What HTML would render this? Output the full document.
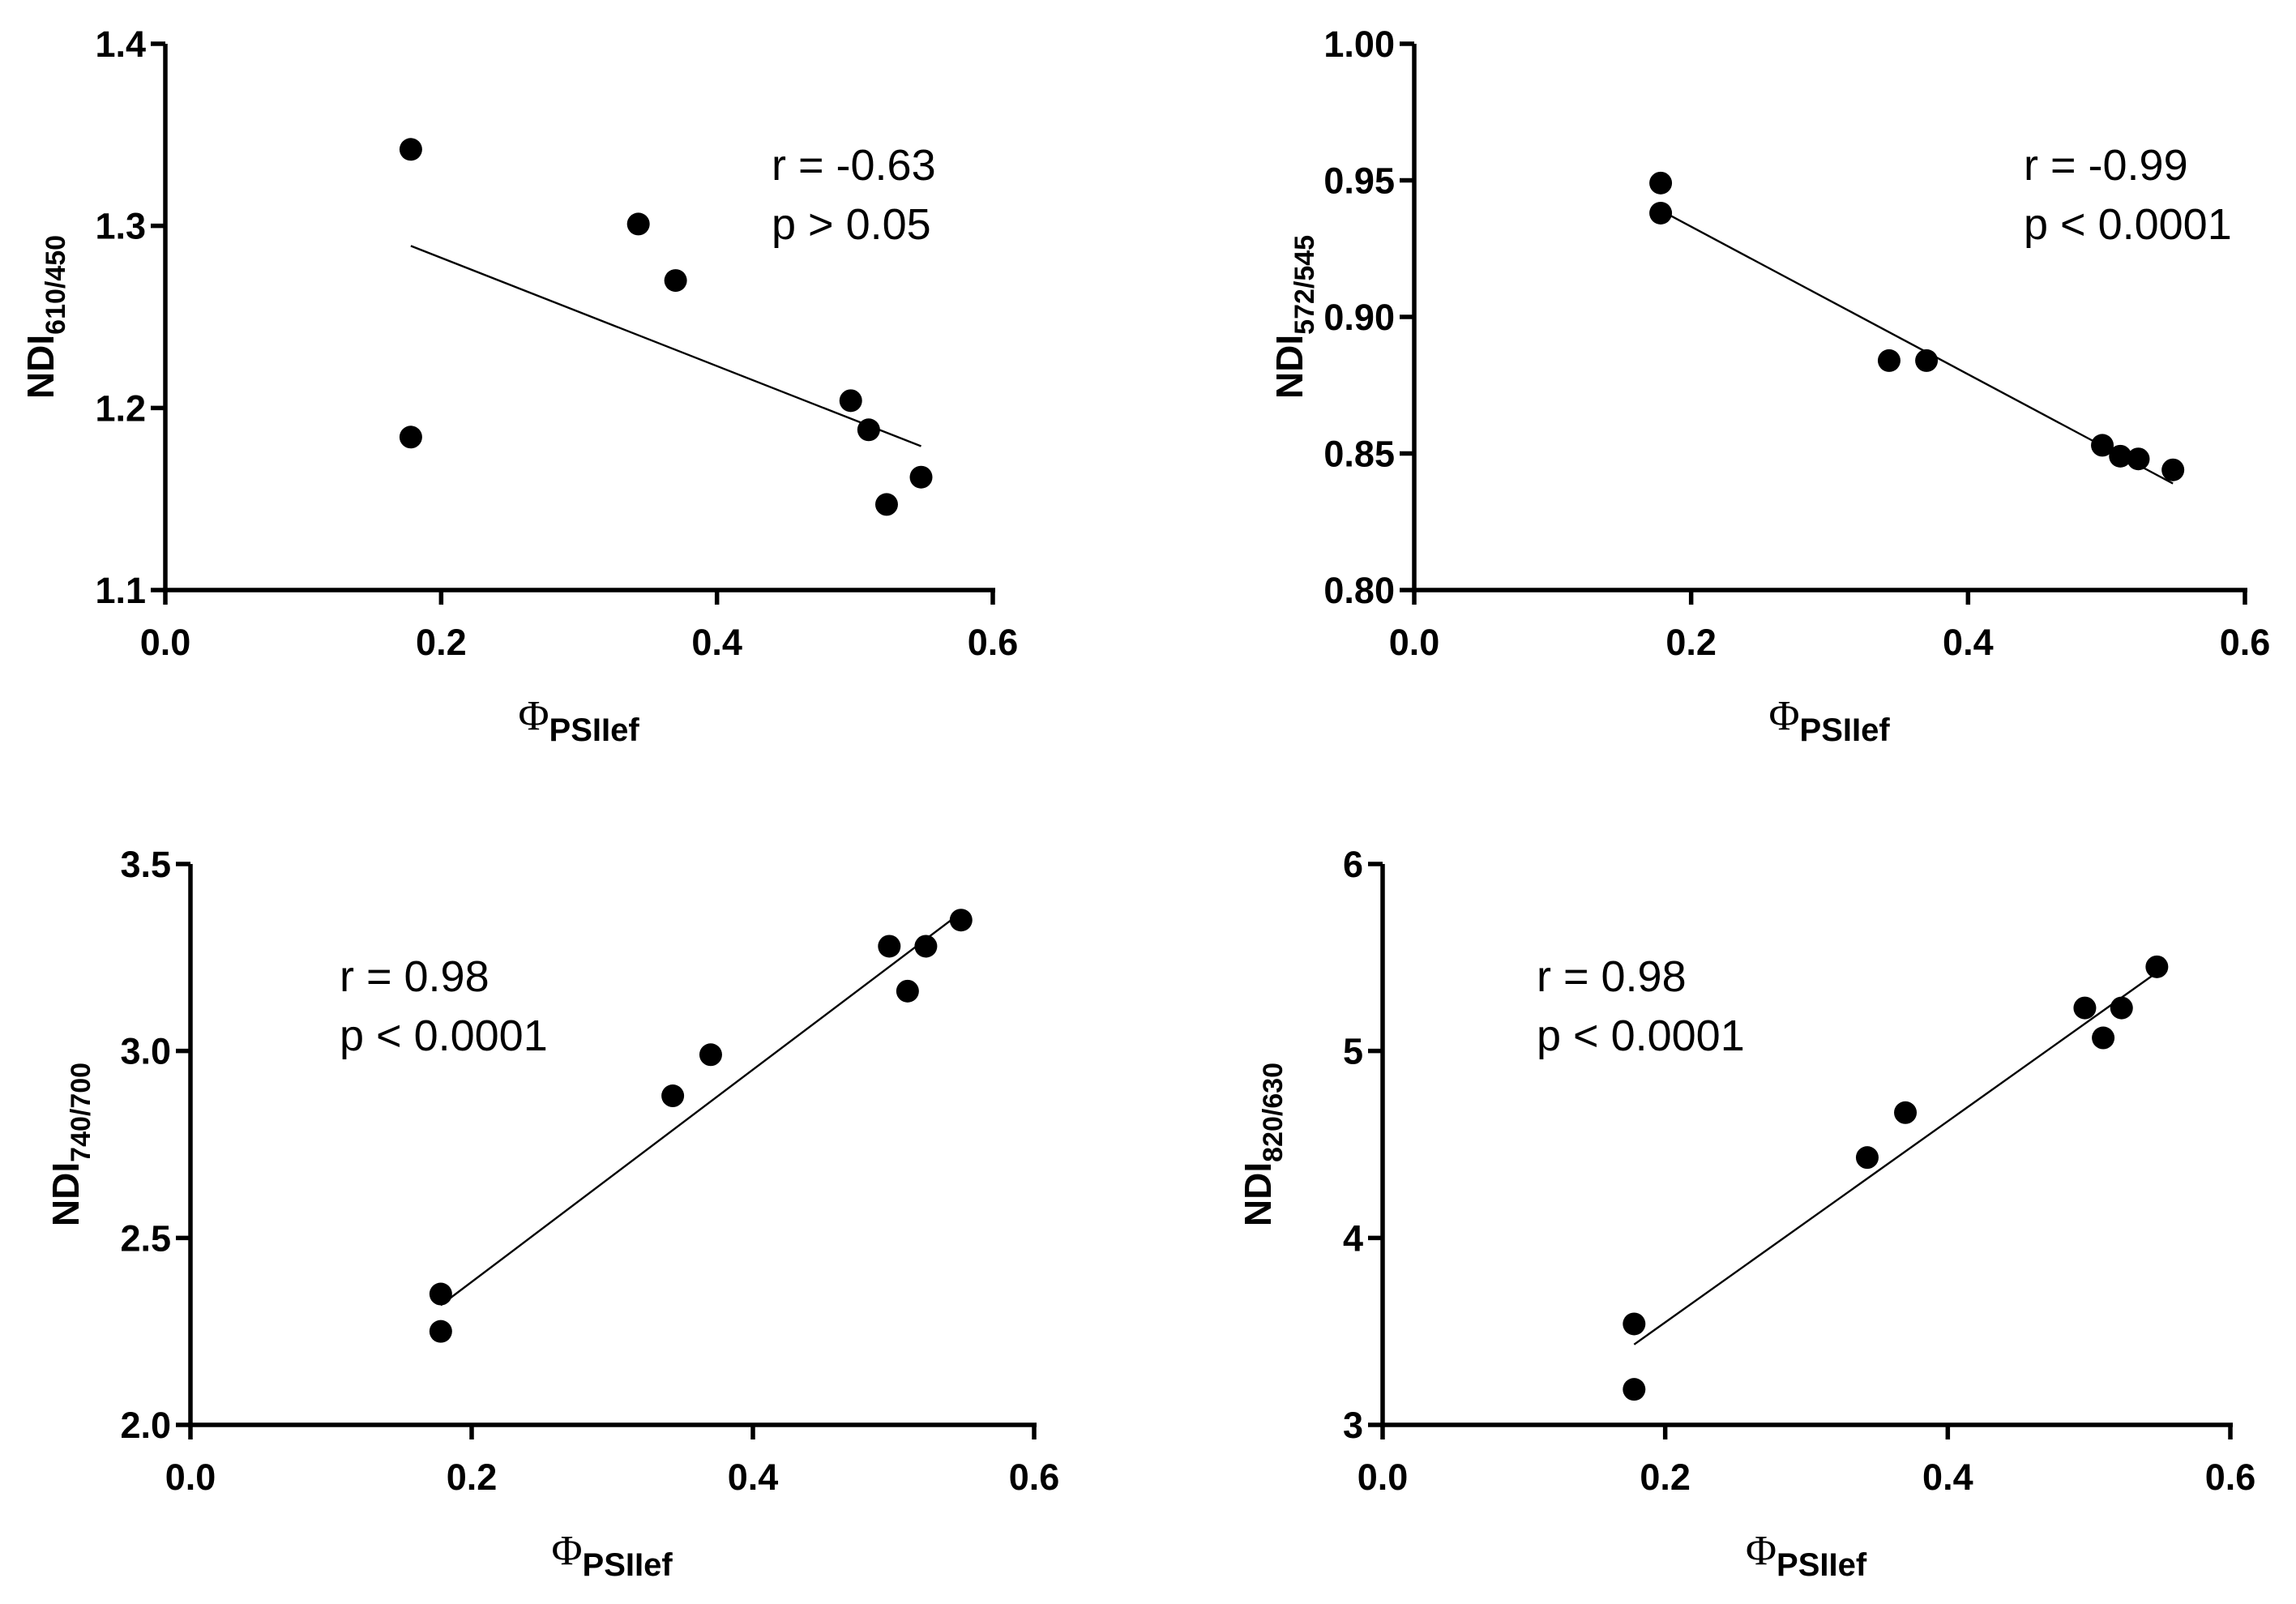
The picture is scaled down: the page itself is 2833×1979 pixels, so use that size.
<!DOCTYPE html>
<html><head><meta charset="utf-8"><style>
html,body{margin:0;padding:0;background:#fff;}
svg{display:block;font-family:"Liberation Sans",Arial,sans-serif;}
</style></head><body>
<svg id="fig" width="2833" height="1979" viewBox="0 0 2833 1979"></svg>
<script>
const xTicks = [0.0, 0.2, 0.4, 0.6];
const xTickLabels = ["0.0", "0.2", "0.4", "0.6"];
const xVals = [0.178, 0.178, 0.343, 0.370, 0.497, 0.510, 0.523, 0.548];
const yA = [1.342, 1.184, 1.301, 1.270, 1.204, 1.188, 1.147, 1.162];
const yB = [0.949, 0.938, 0.884, 0.884, 0.853, 0.849, 0.848, 0.844];
const yC = [2.35, 2.25, 2.88, 2.99, 3.28, 3.16, 3.28, 3.35];
const yD = [3.54, 3.19, 4.43, 4.67, 5.23, 5.07, 5.23, 5.45];
const fitX = [0.178, 0.548];
const fitA = [1.289, 1.179];
const fitB = [0.939, 0.839];
const fitC = [2.32, 3.37];
const fitD = [3.43, 5.42];
const ticksA = [1.1, 1.2, 1.3, 1.4], labelsA = ["1.1","1.2","1.3","1.4"];
const ticksB = [0.80, 0.85, 0.90, 0.95, 1.00], labelsB = ["0.80","0.85","0.90","0.95","1.00"];
const ticksC = [2.0, 2.5, 3.0, 3.5], labelsC = ["2.0","2.5","3.0","3.5"];
const ticksD = [3, 4, 5, 6], labelsD = ["3","4","5","6"];
const statsA = ["r = -0.63", "p > 0.05"];
const statsB = ["r = -0.99", "p < 0.0001"];
const statsC = ["r = 0.98", "p < 0.0001"];
const statsD = ["r = 0.98", "p < 0.0001"];

const NS = "http://www.w3.org/2000/svg";
const svg = document.getElementById("fig");
function mk(tag, attrs, parent) {
  const e = document.createElementNS(NS, tag);
  for (const k in attrs) e.setAttribute(k, attrs[k]);
  parent.appendChild(e);
  return e;
}
function panel(id, L, R, T, B, yMin, yMax, yT, yL, ys, fy, sub, stats, sx, sy) {
  const g = mk("g", {}, svg);
  
  
  const X = v => L + (v - 0) / 0.6 * (R - L);
  const Y = v => B - (v - yMin) / (yMax - yMin) * (B - T);
  const ax = mk("g", {}, g);
  
  
  mk("line", {x1:L, y1:T, x2:L, y2:B+3, stroke:"#000","stroke-width":5.5}, ax);
  mk("line", {x1:L-3, y1:B, x2:R+3, y2:B, stroke:"#000","stroke-width":5.5}, ax);
  yT.forEach((v,i) => {
    const y = Y(v);
    mk("line", {x1:L-18, y1:y, x2:L, y2:y, stroke:"#000","stroke-width":5.5}, ax);
    const t = mk("text", {x:L-24, y:y+16, "text-anchor":"end","font-size":45,"font-weight":"bold","textLength":null}, ax);
    t.removeAttribute("textLength");
    t.textContent = yL[i];
    
    
  });
  xTicks.forEach((v,i) => {
    const x = X(v);
    mk("line", {x1:x, y1:B, x2:x, y2:B+18, stroke:"#000","stroke-width":5.5}, ax);
    const t = mk("text", {x:x, y:B+80, "text-anchor":"middle","font-size":45,"font-weight":"bold"}, ax);
    t.textContent = xTickLabels[i];
    
    
  });
  const xt = mk("text", {x:(L+R)/2 - 75, y:B+172, "font-size":52, "font-family":"Liberation Serif, serif"}, g);
  
  
  xt.innerHTML = 'Φ<tspan font-size="40" font-weight="bold" font-family="Liberation Sans, sans-serif" dy="14">PSIIef</tspan>';
  const cy = (T+B)/2;
  const yt = mk("text", {x:0, y:0, "text-anchor":"middle", "font-size":46, "font-weight":"bold", transform:`translate(${L-138},${cy}) rotate(-90)`}, g);
  
  
  yt.innerHTML = 'NDI<tspan font-size="34" dy="14">' + sub + '</tspan>';
  const fl = mk("line", {x1:X(fitX[0]), y1:Y(fy[0]), x2:X(fitX[1]), y2:Y(fy[1]), stroke:"#000","stroke-width":2.4}, g);
  
  
  xVals.forEach((xv,i) => {
    const c = mk("circle", {cx:X(xv), cy:Y(ys[i]), r:14, fill:"#000"}, g);
    
    
  });
  stats.forEach((s,i) => {
    const t = mk("text", {x:sx, y:sy + i*73, "font-size":54}, g);
    t.textContent = s;
    
    
  });
}
panel("panel-ndi-610-450", 204, 1225, 54, 728, 1.1, 1.4, ticksA, labelsA, yA, fitA, "610/450", statsA, 952, 222);
panel("panel-ndi-572-545", 1745, 2770, 54, 728, 0.80, 1.00, ticksB, labelsB, yB, fitB, "572/545", statsB, 2497, 222);
panel("panel-ndi-740-700", 235, 1276, 1066, 1758, 2.0, 3.5, ticksC, labelsC, yC, fitC, "740/700", statsC, 419, 1223);
panel("panel-ndi-820-630", 1706, 2752, 1066, 1758, 3, 6, ticksD, labelsD, yD, fitD, "820/630", statsD, 1896, 1223);
</script>
</body></html>
